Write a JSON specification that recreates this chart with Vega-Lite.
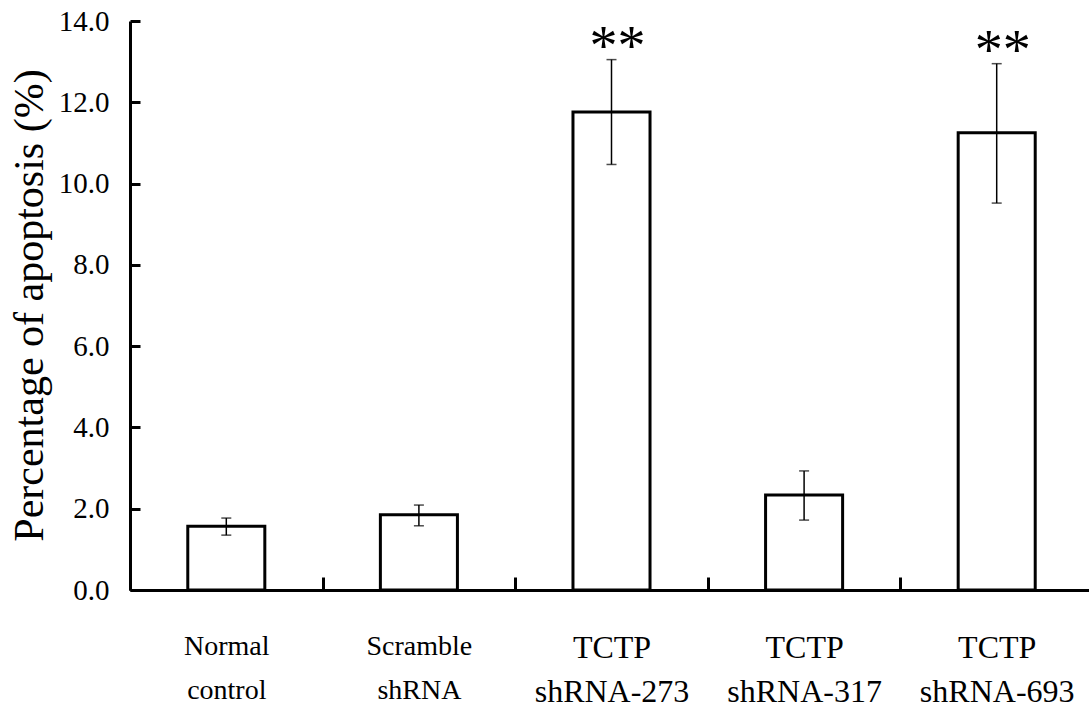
{
  "$schema": "https://vega.github.io/schema/vega-lite/v6.json",
  "width": 963,
  "height": 569,
  "autosize": {"type": "none"},
  "padding": {"left": 130, "top": 21, "right": 0, "bottom": 131},
  "background": "white",
  "config": {
    "view": {"stroke": null},
    "font": "Liberation Serif, Times New Roman, serif",
    "axis": {"labelFont": "Liberation Serif, Times New Roman, serif", "titleFont": "Liberation Serif, Times New Roman, serif", "labelColor": "black", "titleColor": "black"},
    "text": {"font": "Liberation Serif, Times New Roman, serif"}
  },
  "data": {
    "values": [
      {"group": "Normal control", "mean": 1.57, "low": 1.35, "high": 1.77, "sig": ""},
      {"group": "Scramble shRNA", "mean": 1.85, "low": 1.58, "high": 2.09, "sig": ""},
      {"group": "TCTP shRNA-273", "mean": 11.76, "low": 10.47, "high": 13.05, "sig": "**"},
      {"group": "TCTP shRNA-317", "mean": 2.34, "low": 1.72, "high": 2.93, "sig": ""},
      {"group": "TCTP shRNA-693", "mean": 11.25, "low": 9.52, "high": 12.95, "sig": "**"}
    ]
  },
  "encoding": {
    "x": {
      "field": "group",
      "type": "nominal",
      "sort": null,
      "scale": {"paddingInner": 0.6, "paddingOuter": 0.3},
      "axis": {
        "title": null,
        "domainWidth": 3,
        "domainColor": "black",
        "tickOffset": -96.3,
        "labelOffset": 96.3,
        "tickSize": -13,
        "tickWidth": 3,
        "tickColor": "black",
        "labelAngle": 0,
        "labelFontSize": {"condition": {"test": "isString(datum.value) && indexof(datum.value,'TCTP')==0", "value": 32}, "value": 28},
        "labelExpr": "isString(datum.value) ? split(datum.value,' ') : ''",
        "labelLineHeight": 44,
        "labelPadding": 55,
        "labelColor": "black",
        "labelBaseline": "top"
      }
    }
  },
  "layer": [
    {
      "mark": {"type": "bar", "fill": "white", "stroke": "black", "strokeWidth": 3},
      "encoding": {
        "y": {
          "field": "mean",
          "type": "quantitative",
          "title": "Percentage of apoptosis (%)",
          "scale": {"domain": [0, 14]},
          "axis": {
            "values": [0, 2, 4, 6, 8, 10, 12, 14],
            "format": ".1f",
            "grid": false,
            "domainWidth": 3,
            "domainColor": "black",
            "tickSize": -10,
            "tickWidth": 3,
            "tickColor": "black",
            "labelFontSize": 29,
            "labelPadding": 31,
            "labelColor": "black",
            "titleFontSize": 42,
            "titleFontWeight": "normal",
            "titleColor": "black",
            "titleX": -88,
            "titleY": 284,
            "titleAngle": -90,
            "titleBaseline": "alphabetic",
            "titleAlign": "center"
          }
        }
      }
    },
    {
      "mark": {"type": "rule", "color": "black", "strokeWidth": 1.5},
      "encoding": {
        "y": {"field": "low", "type": "quantitative", "title": "Percentage of apoptosis (%)"},
        "y2": {"field": "high"}
      }
    },
    {
      "mark": {"type": "tick", "color": "black", "thickness": 1.5, "size": 10},
      "encoding": {"y": {"field": "low", "type": "quantitative", "title": "Percentage of apoptosis (%)"}}
    },
    {
      "mark": {"type": "tick", "color": "black", "thickness": 1.5, "size": 10},
      "encoding": {"y": {"field": "high", "type": "quantitative", "title": "Percentage of apoptosis (%)"}}
    },
    {
      "mark": {"type": "text", "fontSize": 56, "baseline": "alphabetic", "dy": 5, "dx": 6, "color": "black"},
      "encoding": {
        "y": {"field": "high", "type": "quantitative", "title": "Percentage of apoptosis (%)"},
        "text": {"field": "sig"}
      }
    }
  ]
}
